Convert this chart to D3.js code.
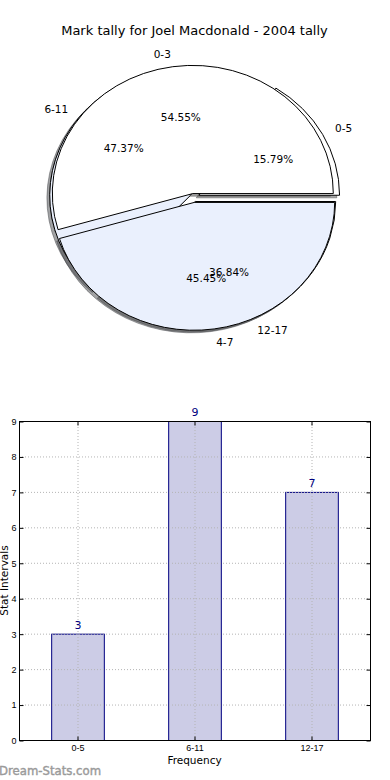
<!DOCTYPE html>
<html>
<head>
<meta charset="utf-8">
<script src="https://cdnjs.cloudflare.com/ajax/libs/d3/7.8.5/d3.min.js"></script>
<style>
  body { margin: 0; background: #fff; }
  svg { display: block; }
</style>
</head>
<body>
<svg id="chart" width="390" height="780"></svg>
<script>
// Mark ranges (top pie, drawn over the other one)
const markLabels = ["0-3", "4-7"];
const markValues = [6, 5];
const markExplode = [0.035, 0.035];

// Stat intervals (pie underneath + bar chart)
const statLabels = ["0-5", "6-11", "12-17"];
const statValues = [3, 9, 7];
const statExplode = [0.045, 0.03, 0.03];

const yTicks = [0, 1, 2, 3, 4, 5, 6, 7, 8, 9];
const pieColors = ["#ffffff", "#eaf0fd"];

const font = "DejaVu Sans, sans-serif";
const svg = d3.select("#chart");

// Title
svg.append("text")
    .attr("x", 194.5)
    .attr("y", 34.5)
    .style("text-anchor", "middle")
    .style("font-family", font)
    .style("font-size", "13px")
    .style("fill", "#000")
    .text("Mark tally for Joel Macdonald - 2004 tally");

// ---- Pie part ----
// matplotlib pie: starts at 3 o'clock and runs counter-clockwise, axes not equal so it's an ellipse.
let cx = 193.5, cy = 198, rx = 140.5, ry = 128;

let pie = d3.pie()
    .sort(null)
    .startAngle(Math.PI / 2)
    .endAngle(Math.PI / 2 - 2 * Math.PI);
let arc = d3.arc().innerRadius(0).outerRadius(1);

let pieG = svg.append("g").attr("transform", "translate(" + cx + "," + cy + ")");
let shadowLayer = pieG.append("g");
let wedgeLayer = pieG.append("g");
let textLayer = pieG.append("g");

function drawPie(labels, values, explode) {
    let total = d3.sum(values);
    pie(values).forEach(function(d, i) {
        let mid = (d.startAngle + d.endAngle) / 2;
        let ex = explode[i] * Math.sin(mid);
        let ey = -explode[i] * Math.cos(mid);
        let col = d3.rgb(pieColors[i % pieColors.length]);
        let shade = "rgba(" + Math.round(col.r * 0.3) + "," + Math.round(col.g * 0.3) + "," + Math.round(col.b * 0.3) + ",0.5)";

        // shadow, offset down-left
        shadowLayer.append("path")
            .attr("transform", "scale(" + rx + "," + ry + ") translate(" + (ex - 0.02) + "," + (ey + 0.02) + ")")
            .attr("d", arc(d))
            .attr("fill", shade)
            .attr("stroke", shade)
            .attr("stroke-width", 1)
            .attr("vector-effect", "non-scaling-stroke");

        wedgeLayer.append("path")
            .attr("transform", "scale(" + rx + "," + ry + ") translate(" + ex + "," + ey + ")")
            .attr("d", arc(d))
            .attr("fill", col.formatHex())
            .attr("stroke", "#000")
            .attr("stroke-width", 1)
            .attr("stroke-linejoin", "miter")
            .attr("vector-effect", "non-scaling-stroke");

        // outer label at 1.1 r
        let lx = (explode[i] + 1.1) * Math.sin(mid) * rx;
        let ly = -(explode[i] + 1.1) * Math.cos(mid) * ry;
        textLayer.append("text")
            .attr("x", lx)
            .attr("y", ly)
            .attr("dy", "0.36em")
            .style("text-anchor", lx > 0 ? "start" : "end")
            .style("font-family", font)
            .style("font-size", "10.5px")
            .style("fill", "#000")
            .text(labels[i]);

        // percentage at 0.6 r
        let px = (explode[i] + 0.6) * Math.sin(mid) * rx;
        let py = -(explode[i] + 0.6) * Math.cos(mid) * ry;
        textLayer.append("text")
            .attr("x", px)
            .attr("y", py)
            .attr("dy", "0.36em")
            .style("text-anchor", "middle")
            .style("font-family", font)
            .style("font-size", "10.5px")
            .style("fill", "#000")
            .text((values[i] / total * 100).toFixed(2) + "%");
    });
}

drawPie(statLabels, statValues, statExplode);
drawPie(markLabels, markValues, markExplode);

// ---- Bar part ----
let plotLeft = 19, plotRight = 370, plotTop = 421, plotBottom = 740;

let xScale = d3.scaleBand()
    .domain(statLabels)
    .range([plotLeft, plotRight])
    .paddingInner(0.55)
    .paddingOuter(0.275);

let yScale = d3.scaleLinear()
    .domain([0, 9])
    .range([plotBottom, plotTop]);

// Bars
svg.append("g").selectAll("rect")
    .data(statValues)
    .join("rect")
    .attr("x", (d, i) => xScale(statLabels[i]) + 0.5)
    .attr("y", d => yScale(d) + 0.5)
    .attr("width", xScale.bandwidth())
    .attr("height", d => plotBottom - yScale(d))
    .attr("fill", "#ccccE6")
    .attr("stroke", "#000080")
    .attr("stroke-width", 1);

// Grid (drawn above bars, like the old matplotlib default)
let grid = svg.append("g")
    .attr("stroke", "#b4b4b4")
    .attr("stroke-width", 1)
    .attr("stroke-dasharray", "1,2");
grid.selectAll(".hg")
    .data(yTicks.slice(1, -1))
    .join("line")
    .attr("x1", plotLeft)
    .attr("x2", plotRight)
    .attr("y1", d => yScale(d) + 0.5)
    .attr("y2", d => yScale(d) + 0.5);
grid.selectAll(".vg")
    .data(statLabels)
    .join("line")
    .attr("x1", d => xScale(d) + xScale.bandwidth() / 2 + 0.5)
    .attr("x2", d => xScale(d) + xScale.bandwidth() / 2 + 0.5)
    .attr("y1", plotTop)
    .attr("y2", plotBottom);

// Value labels
svg.append("g").selectAll("text")
    .data(statValues)
    .join("text")
    .attr("x", (d, i) => xScale(statLabels[i]) + xScale.bandwidth() / 2 + 0.5)
    .attr("y", d => yScale(d) - 5)
    .style("text-anchor", "middle")
    .style("font-family", font)
    .style("font-size", "11px")
    .style("fill", "#000080")
    .text(d => d);

// Axes with inward ticks
function styleAxis(g) {
    g.select(".domain").remove();
    g.selectAll("text")
        .attr("font-family", "Liberation Sans, sans-serif")
        .attr("font-size", 9)
        .attr("fill", "#000");
    g.selectAll("line").attr("stroke", "#000");
}

svg.append("g")
    .attr("transform", "translate(" + (plotLeft + 0.5) + ",0.5)")
    .call(d3.axisLeft(yScale).tickValues(yTicks).tickSizeInner(-4).tickSizeOuter(0).tickPadding(3).tickFormat(d3.format("d")))
    .call(styleAxis);
svg.append("g")
    .attr("transform", "translate(" + (plotRight + 0.5) + ",0.5)")
    .call(d3.axisRight(yScale).tickValues(yTicks).tickSizeInner(-4).tickSizeOuter(0).tickFormat(""))
    .call(styleAxis);
svg.append("g")
    .attr("transform", "translate(0.5," + (plotBottom + 0.5) + ")")
    .call(d3.axisBottom(xScale).tickSizeInner(-4).tickSizeOuter(0).tickPadding(4))
    .call(styleAxis);
svg.append("g")
    .attr("transform", "translate(0.5," + (plotTop + 0.5) + ")")
    .call(d3.axisTop(xScale).tickSizeInner(-4).tickSizeOuter(0).tickFormat(""))
    .call(styleAxis);

// Frame
svg.append("rect")
    .attr("x", plotLeft + 0.5)
    .attr("y", plotTop + 0.5)
    .attr("width", plotRight - plotLeft)
    .attr("height", plotBottom - plotTop)
    .attr("fill", "none")
    .attr("stroke", "#000")
    .attr("stroke-width", 1);

// Axis titles
svg.append("text")
    .attr("x", (plotLeft + plotRight) / 2)
    .attr("y", 764)
    .style("text-anchor", "middle")
    .style("font-family", font)
    .style("font-size", "10.5px")
    .style("fill", "#000")
    .text("Frequency");

svg.append("text")
    .attr("transform", "translate(8," + ((plotTop + plotBottom) / 2) + ") rotate(-90)")
    .style("text-anchor", "middle")
    .style("font-family", font)
    .style("font-size", "10.5px")
    .style("fill", "#000")
    .text("Stat Intervals");

// Watermark
svg.append("text")
    .attr("x", -1)
    .attr("y", 775)
    .style("font-family", font)
    .style("font-size", "11.7px")
    .style("fill", "#9a9a9a")
    .style("stroke", "#9a9a9a")
    .style("stroke-width", 0.4)
    .text("Dream-Stats.com");
</script>
</body>
</html>
